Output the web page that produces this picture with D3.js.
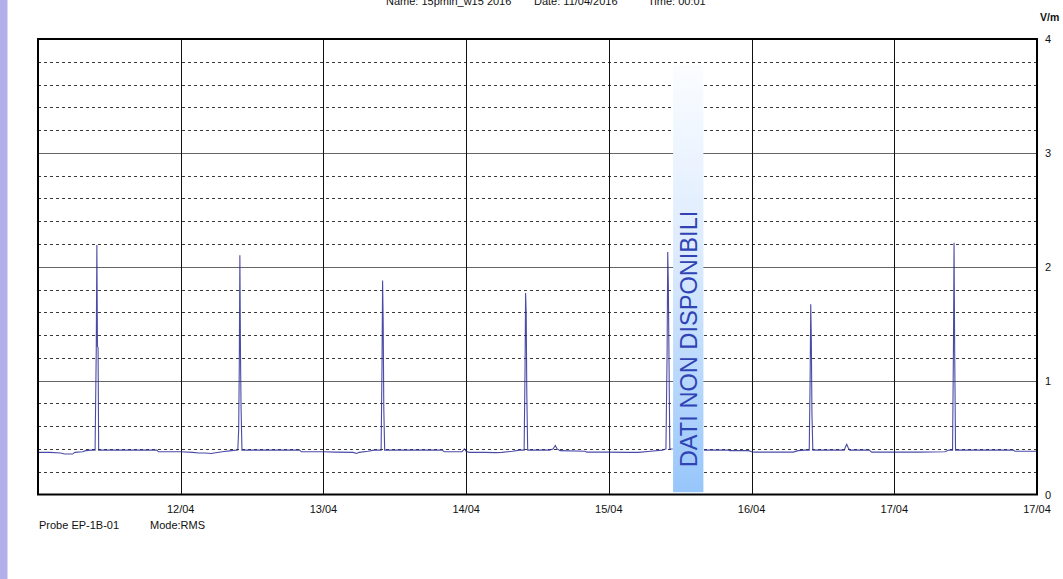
<!DOCTYPE html>
<html>
<head>
<meta charset="utf-8">
<script src="https://cdn.jsdelivr.net/npm/d3@7"></script>
<style>
  html, body { margin: 0; padding: 0; background: #fff; }
  svg { display: block; font-family: "Liberation Sans", Arial, sans-serif; }
</style>
</head>
<body>
<svg id="chart" width="1063" height="579"></svg>
<script>
// ---- data (hours since 11/04/2016 00:00, V/m) ----
const tickHours  = [24, 48, 72, 96, 120, 144, 168];
const tickLabels = ["12/04", "13/04", "14/04", "15/04", "16/04", "17/04", "17/04"];
const yTickValues = [0, 1, 2, 3, 4];
const gapHours = [106.8, 111.9];            // "DATI NON DISPONIBILI"
const titleTexts = ["Name: 15pmin_w15 2016", "Date: 11/04/2016", "Time: 00:01"];

const day11 = [[0,0.37],[2,0.37],[3.8,0.365],[4.5,0.355],[5.8,0.355],[6.2,0.37],[7.5,0.375],[8,0.385],[9,0.39],[9.6,0.39],
  [9.8,1.29],[9.9,2.19],[10.0,1.30],[10.1,1.29],[10.2,0.39],[14,0.39],[18,0.39],[20,0.39],[20.25,0.375],[24,0.375]];
const day12 = [[26,0.37],[27,0.365],[28,0.365],[29.2,0.36],[29.6,0.365],[31,0.375],[32.5,0.385],[33.6,0.39],
  [33.75,0.57],[33.85,1.13],[33.95,2.10],[34.05,1.24],[34.15,0.76],[34.3,0.39],[38,0.39],[44,0.39],[44.3,0.375],[48,0.375]];
const day13 = [[50,0.372],[53,0.37],[53.6,0.36],[54,0.37],[55.5,0.38],[56.5,0.39],[57.7,0.39],
  [57.85,1.13],[57.95,1.88],[58.05,1.51],[58.15,0.76],[58.3,0.39],[62,0.39],[68,0.39],[68.3,0.375],[71.3,0.375],[71.7,0.40],[72,0.38]];
const day14 = [[72.5,0.37],[75,0.37],[77,0.368],[78,0.37],[79.8,0.38],[81,0.39],[81.75,0.39],
  [81.9,1.08],[82.0,1.77],[82.1,1.58],[82.2,0.89],[82.35,0.39],[86,0.39],[86.6,0.40],[87,0.43],[87.3,0.40],[87.8,0.385],[92,0.38],[92.3,0.372],[96,0.372]];
const day15 = [[99,0.37],[101,0.37],[103,0.38],[105,0.39],[105.6,0.40],
  [105.8,1.27],[105.9,2.13],[106.0,1.86],[106.1,1.27],[106.25,0.40],[106.75,0.40],[107,null],
  [112,0.39],[116,0.39],[116.3,0.385],[119.5,0.385],[120,0.375]];
const day16 = [[120.5,0.372],[127,0.372],[127.8,0.385],[129,0.39],[129.7,0.39],
  [129.85,1.03],[129.95,1.67],[130.05,1.35],[130.15,0.72],[130.3,0.39],[135.6,0.39],[135.8,0.42],[136,0.44],[136.25,0.41],[136.5,0.39],[139.8,0.39],[140.2,0.372],[144,0.372]];
const day17 = [[148,0.372],[152.5,0.375],[153.2,0.39],[153.8,0.39],
  [153.95,1.29],[154.05,2.21],[154.15,1.29],[154.3,0.39],[160,0.39],[164,0.39],[164.3,0.38],[168,0.38]];

const samples = [].concat(day11, day12, day13, day14, day15, day16, day17);

// ---- layout ----
const svg = d3.select("#chart");
const L = 38, R = 1037, T = 39, B = 494.5;
const x = d3.scaleLinear().domain([0, 168]).range([L, R]);
const y = d3.scaleLinear().domain([0, 4]).range([B, T]);

// left lavender strip
svg.append("rect").attr("x", 0).attr("y", 0).attr("width", 7.5).attr("height", 579).attr("fill", "#b2afe9");

// title (partly cut off at top, as in the original)
const titleX = [386, 534, 648];
svg.selectAll("text.title").data(titleTexts).join("text")
  .attr("class", "title")
  .attr("x", (d, i) => titleX[i]).attr("y", 5)
  .attr("font-size", 11).attr("fill", "#111").text(d => d);

// minor dashed horizontal grid
const minor = d3.range(0.2, 4, 0.2).filter(v => Math.abs(v - Math.round(v)) > 0.01);
svg.append("g").selectAll("line").data(minor).join("line")
  .attr("x1", L).attr("x2", R)
  .attr("y1", d => Math.round(y(d)) + 0.5).attr("y2", d => Math.round(y(d)) + 0.5)
  .attr("stroke", "#3a3a3a").attr("stroke-width", 1).attr("stroke-dasharray", "3,3");

// major horizontal grid
svg.append("g").selectAll("line").data([1, 2, 3]).join("line")
  .attr("x1", L).attr("x2", R)
  .attr("y1", d => Math.round(y(d)) + 0.5).attr("y2", d => Math.round(y(d)) + 0.5)
  .attr("stroke", "#666").attr("stroke-width", 1);

// vertical grid
svg.append("g").selectAll("line").data(tickHours.slice(0, -1)).join("line")
  .attr("x1", d => Math.round(x(d)) + 0.5).attr("x2", d => Math.round(x(d)) + 0.5)
  .attr("y1", T).attr("y2", B)
  .attr("stroke", "#111").attr("stroke-width", 1);

// data line
const line = d3.line()
  .defined(d => d[1] !== null)
  .x(d => x(d[0])).y(d => y(d[1]));
svg.append("path").datum(samples)
  .attr("d", line).attr("fill", "none")
  .attr("stroke", "#2a2a98").attr("stroke-width", 1.1).attr("stroke-opacity", 0.85);

// missing data band
const defs = svg.append("defs");
const grad = defs.append("linearGradient").attr("id", "gapGrad")
  .attr("x1", 0).attr("y1", 0).attr("x2", 0).attr("y2", 1);
grad.append("stop").attr("offset", "0%").attr("stop-color", "#fbfdff");
grad.append("stop").attr("offset", "45%").attr("stop-color", "#dbeafe");
grad.append("stop").attr("offset", "100%").attr("stop-color", "#97c6fb");
const bandTop = y(3.77), bandBot = y(0.02);
svg.append("rect")
  .attr("x", x(gapHours[0])).attr("y", bandTop)
  .attr("width", x(gapHours[1]) - x(gapHours[0])).attr("height", bandBot - bandTop)
  .attr("fill", "url(#gapGrad)");
svg.append("text")
  .attr("transform", `translate(${(x(gapHours[0]) + x(gapHours[1])) / 2 + 8.5},${y(0.24)}) rotate(-90)`)
  .attr("font-size", 23.6).attr("fill", "#2f43b4")
  .text("DATI NON DISPONIBILI");

// frame
svg.append("rect").attr("x", L).attr("y", T).attr("width", R - L).attr("height", B - T)
  .attr("fill", "none").attr("stroke", "#000").attr("stroke-width", 2);

// x tick labels
svg.append("g").selectAll("text").data(tickHours).join("text")
  .attr("x", d => x(d)).attr("y", 512.5)
  .attr("text-anchor", "middle").attr("font-size", 11).attr("fill", "#111")
  .text((d, i) => tickLabels[i]);

// y tick labels (right)
svg.append("g").selectAll("text").data(yTickValues).join("text")
  .attr("x", 1045).attr("y", d => y(d) + 4)
  .attr("font-size", 11).attr("fill", "#111").text(d => d);

svg.append("text").attr("x", 1040).attr("y", 21)
  .attr("font-size", 10.5).attr("font-weight", "bold").attr("fill", "#111").text("V/m");

// footer
svg.append("text").attr("x", 39).attr("y", 528.5).attr("font-size", 11).attr("fill", "#111").text("Probe EP-1B-01");
svg.append("text").attr("x", 150).attr("y", 528.5).attr("font-size", 11).attr("fill", "#111").text("Mode:RMS");
</script>
</body>
</html>
